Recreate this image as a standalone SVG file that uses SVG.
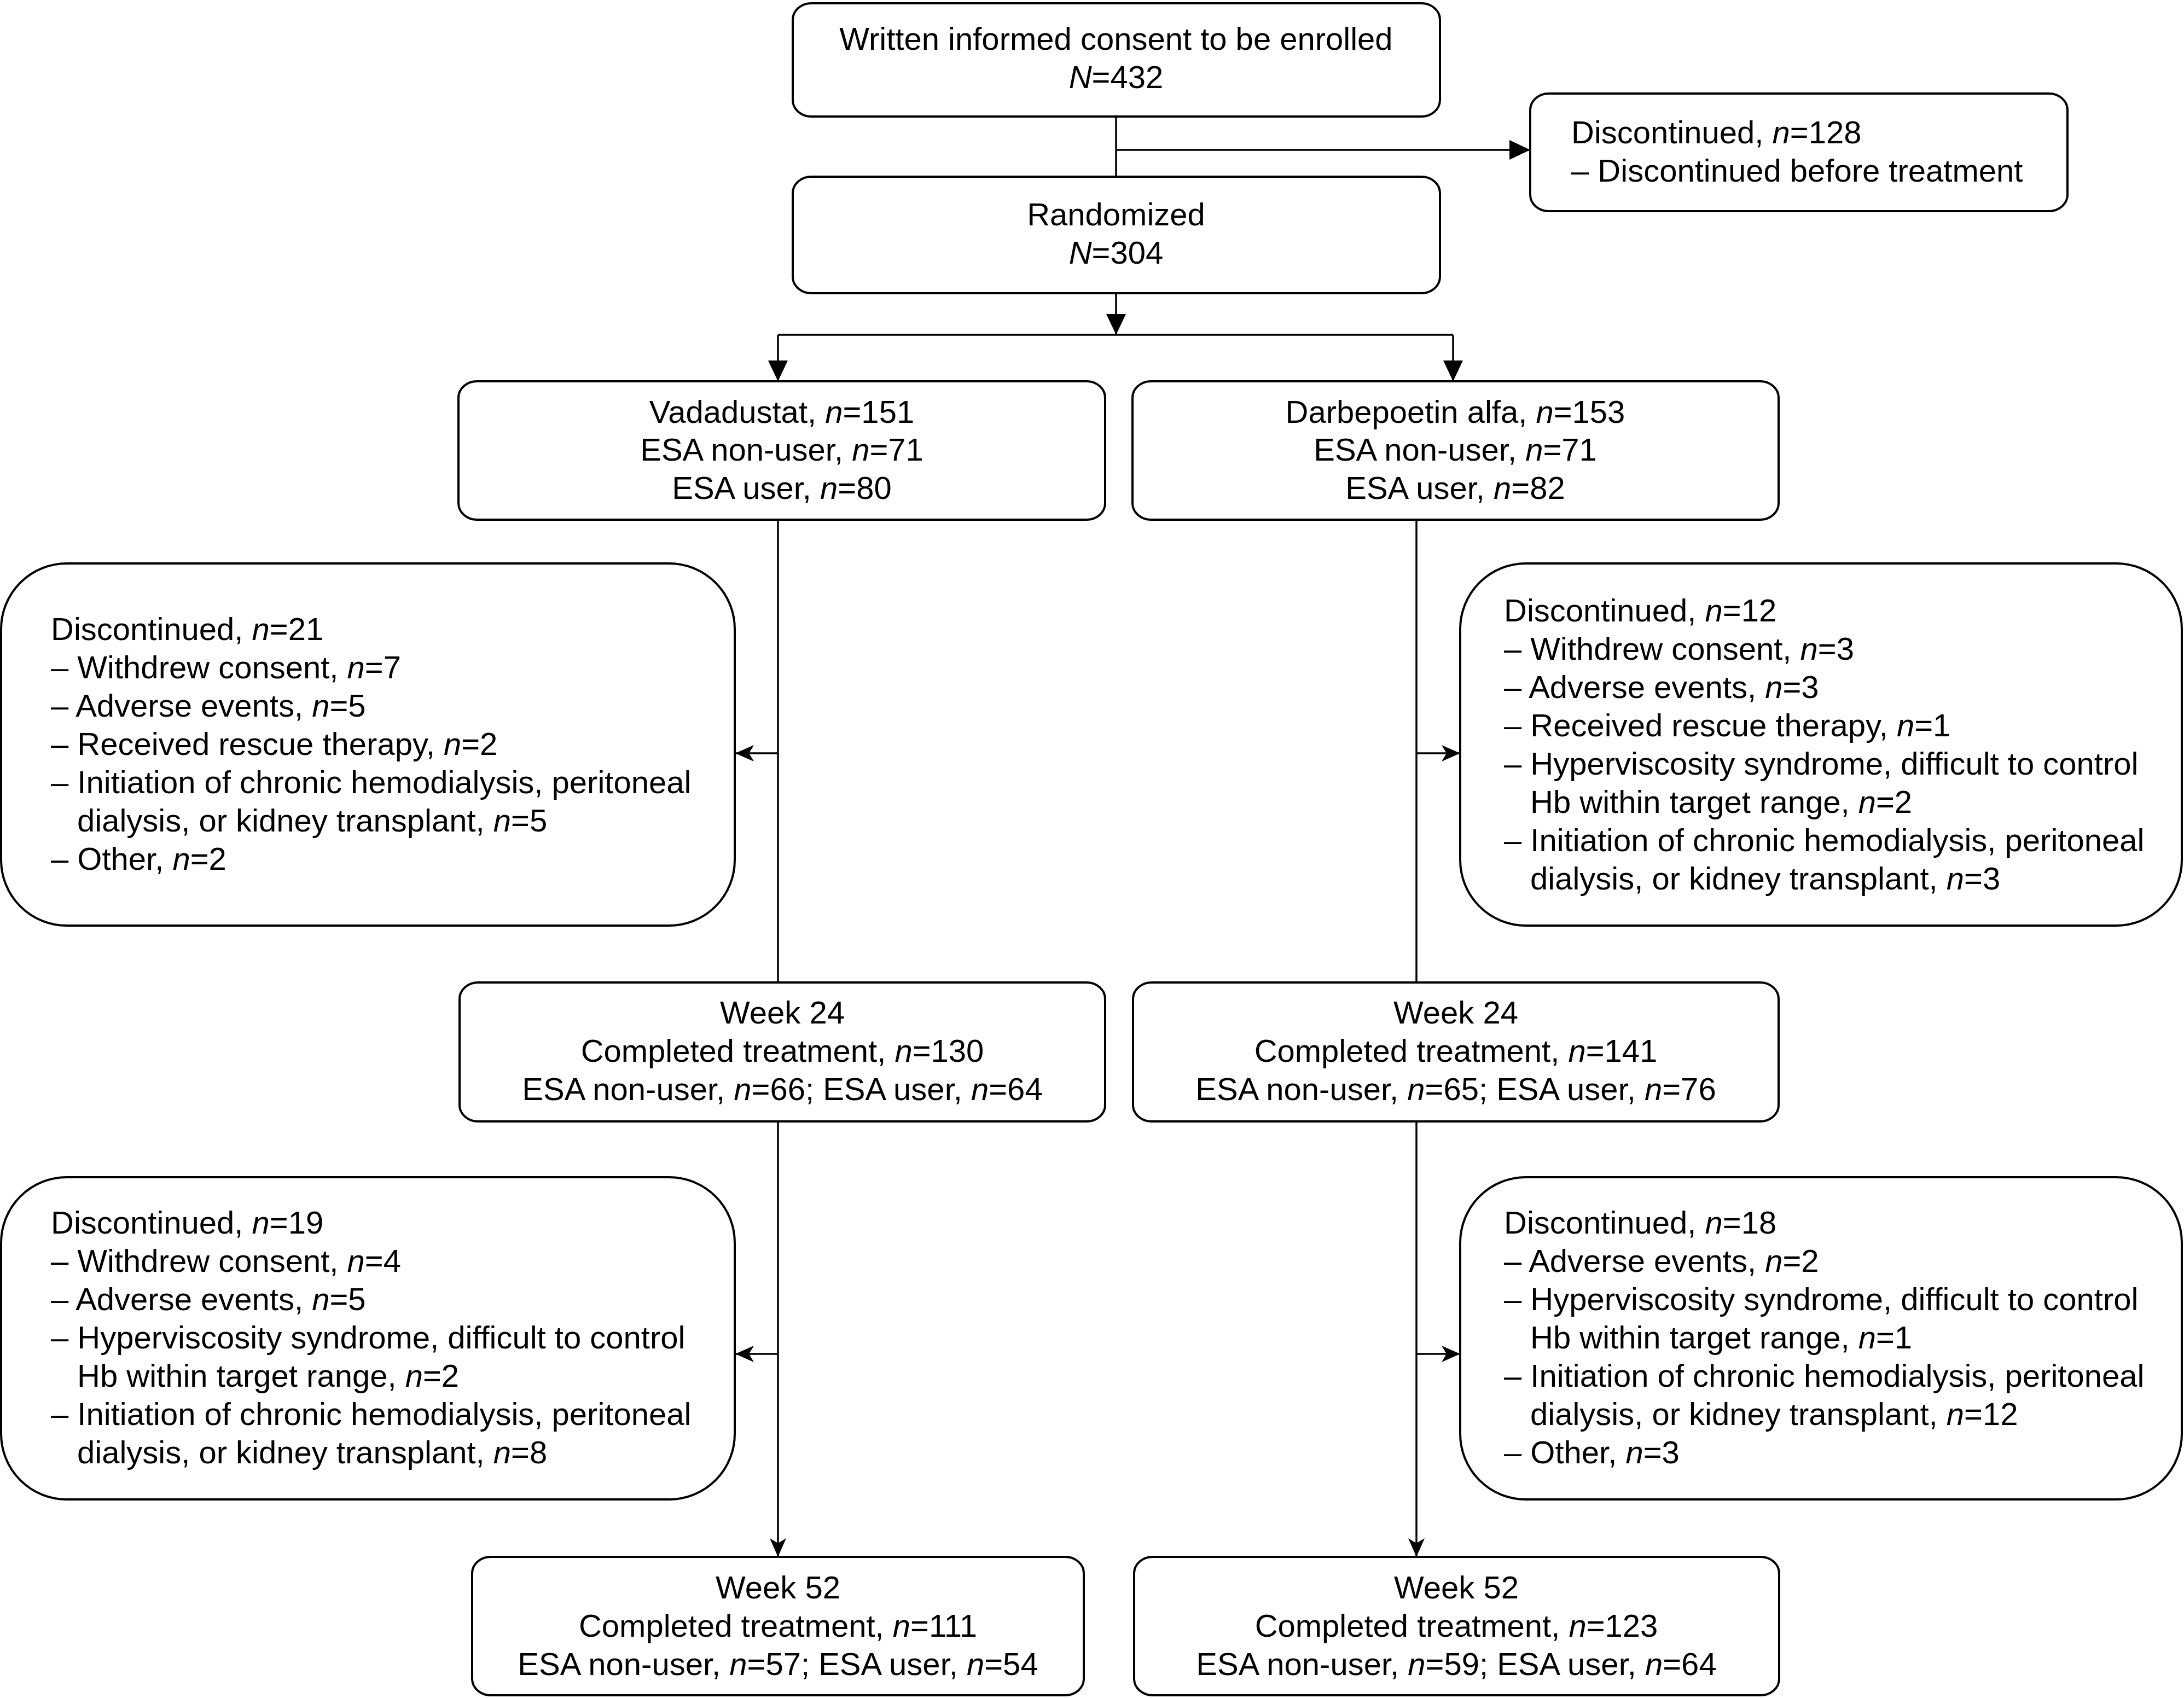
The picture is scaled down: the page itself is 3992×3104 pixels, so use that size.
<svg xmlns="http://www.w3.org/2000/svg" width="3992" height="3104" viewBox="0 0 3992 3104">
<style>
.box{fill:#fff;stroke:#000;stroke-width:4}
.t{font-family:"Liberation Sans",Arial,Helvetica,sans-serif;font-size:58px;fill:#000}
.c{text-anchor:middle}
.i{font-style:italic}
.ln{fill:none;stroke:#000;stroke-width:3.5}
</style>
<defs>
<marker id="tri" markerUnits="userSpaceOnUse" markerWidth="40" markerHeight="36" refX="38" refY="18" orient="auto">
<path d="M0,0 L38,18 L0,36 z" fill="#000"/>
</marker>
<marker id="barb" markerUnits="userSpaceOnUse" markerWidth="36" markerHeight="30" refX="34" refY="15" orient="auto">
<path d="M0,0 L34,15 L0,30 L9,15 z" fill="#000"/>
</marker>
</defs>
<rect width="3992" height="3104" fill="#fff"/>
<g id="connectors">
<line class="ln" x1="2040" y1="213" x2="2040" y2="323"/>
<line class="ln" x1="2040" y1="274" x2="2797" y2="274" marker-end="url(#tri)"/>
<line class="ln" x1="2040" y1="536" x2="2040" y2="612" marker-end="url(#tri)"/>
<line class="ln" x1="1422" y1="612" x2="2656" y2="612"/>
<line class="ln" x1="1422" y1="612" x2="1422" y2="697" marker-end="url(#tri)"/>
<line class="ln" x1="2656" y1="612" x2="2656" y2="697" marker-end="url(#tri)"/>
<line class="ln" x1="1422" y1="950" x2="1422" y2="1796"/>
<line class="ln" x1="1422" y1="1377" x2="1344" y2="1377" marker-end="url(#barb)"/>
<line class="ln" x1="2589" y1="950" x2="2589" y2="1796"/>
<line class="ln" x1="2589" y1="1377" x2="2669" y2="1377" marker-end="url(#barb)"/>
<line class="ln" x1="1422" y1="2050" x2="1422" y2="2846" marker-end="url(#barb)"/>
<line class="ln" x1="1422" y1="2475" x2="1344" y2="2475" marker-end="url(#barb)"/>
<line class="ln" x1="2589" y1="2050" x2="2589" y2="2846" marker-end="url(#barb)"/>
<line class="ln" x1="2589" y1="2475" x2="2669" y2="2475" marker-end="url(#barb)"/>
</g>
<g id="enrolled">
<rect class="box" x="1449" y="6" width="1183" height="207" rx="34" ry="30"/>
<text class="t c" x="2040" y="91">Written informed consent to be enrolled</text>
<text class="t c" x="2040" y="161"><tspan class="i">N</tspan>=432</text>
</g>
<g id="disc-pre">
<rect class="box" x="2797" y="171" width="982" height="215" rx="34" ry="30"/>
<text class="t" x="2872" y="262">Discontinued, <tspan class="i">n</tspan>=128</text>
<text class="t" x="2872" y="332">– Discontinued before treatment</text>
</g>
<g id="randomized">
<rect class="box" x="1449" y="323" width="1183" height="213" rx="34" ry="30"/>
<text class="t c" x="2040" y="412">Randomized</text>
<text class="t c" x="2040" y="482"><tspan class="i">N</tspan>=304</text>
</g>
<g id="vadadustat">
<rect class="box" x="838" y="697" width="1182" height="253" rx="34" ry="30"/>
<text class="t c" x="1429" y="773">Vadadustat, <tspan class="i">n</tspan>=151</text>
<text class="t c" x="1429" y="842">ESA non-user, <tspan class="i">n</tspan>=71</text>
<text class="t c" x="1429" y="912">ESA user, <tspan class="i">n</tspan>=80</text>
</g>
<g id="darbepoetin">
<rect class="box" x="2070" y="697" width="1181" height="253" rx="34" ry="30"/>
<text class="t c" x="2660" y="773">Darbepoetin alfa, <tspan class="i">n</tspan>=153</text>
<text class="t c" x="2660" y="842">ESA non-user, <tspan class="i">n</tspan>=71</text>
<text class="t c" x="2660" y="912">ESA user, <tspan class="i">n</tspan>=82</text>
</g>
<g id="disc-v1">
<rect class="box" x="2" y="1030" width="1341" height="662" rx="120" ry="120"/>
<text class="t" x="93" y="1170">Discontinued, <tspan class="i">n</tspan>=21</text>
<text class="t" x="93" y="1240">– Withdrew consent, <tspan class="i">n</tspan>=7</text>
<text class="t" x="93" y="1310">– Adverse events, <tspan class="i">n</tspan>=5</text>
<text class="t" x="93" y="1380">– Received rescue therapy, <tspan class="i">n</tspan>=2</text>
<text class="t" x="93" y="1450">– Initiation of chronic hemodialysis, peritoneal</text>
<text class="t" x="141" y="1520">dialysis, or kidney transplant, <tspan class="i">n</tspan>=5</text>
<text class="t" x="93" y="1590">– Other, <tspan class="i">n</tspan>=2</text>
</g>
<g id="disc-d1">
<rect class="box" x="2669" y="1030" width="1319" height="662" rx="120" ry="120"/>
<text class="t" x="2749" y="1136">Discontinued, <tspan class="i">n</tspan>=12</text>
<text class="t" x="2749" y="1206">– Withdrew consent, <tspan class="i">n</tspan>=3</text>
<text class="t" x="2749" y="1276">– Adverse events, <tspan class="i">n</tspan>=3</text>
<text class="t" x="2749" y="1346">– Received rescue therapy, <tspan class="i">n</tspan>=1</text>
<text class="t" x="2749" y="1416">– Hyperviscosity syndrome, difficult to control</text>
<text class="t" x="2797" y="1486">Hb within target range, <tspan class="i">n</tspan>=2</text>
<text class="t" x="2749" y="1556">– Initiation of chronic hemodialysis, peritoneal</text>
<text class="t" x="2797" y="1626">dialysis, or kidney transplant, <tspan class="i">n</tspan>=3</text>
</g>
<g id="week24-v">
<rect class="box" x="840" y="1796" width="1180" height="254" rx="34" ry="30"/>
<text class="t c" x="1430" y="1871">Week 24</text>
<text class="t c" x="1430" y="1941">Completed treatment, <tspan class="i">n</tspan>=130</text>
<text class="t c" x="1430" y="2011">ESA non-user, <tspan class="i">n</tspan>=66; ESA user, <tspan class="i">n</tspan>=64</text>
</g>
<g id="week24-d">
<rect class="box" x="2071" y="1796" width="1180" height="254" rx="34" ry="30"/>
<text class="t c" x="2661" y="1871">Week 24</text>
<text class="t c" x="2661" y="1941">Completed treatment, <tspan class="i">n</tspan>=141</text>
<text class="t c" x="2661" y="2011">ESA non-user, <tspan class="i">n</tspan>=65; ESA user, <tspan class="i">n</tspan>=76</text>
</g>
<g id="disc-v2">
<rect class="box" x="2" y="2152" width="1341" height="589" rx="120" ry="120"/>
<text class="t" x="93" y="2255">Discontinued, <tspan class="i">n</tspan>=19</text>
<text class="t" x="93" y="2325">– Withdrew consent, <tspan class="i">n</tspan>=4</text>
<text class="t" x="93" y="2395">– Adverse events, <tspan class="i">n</tspan>=5</text>
<text class="t" x="93" y="2465">– Hyperviscosity syndrome, difficult to control</text>
<text class="t" x="141" y="2535">Hb within target range, <tspan class="i">n</tspan>=2</text>
<text class="t" x="93" y="2605">– Initiation of chronic hemodialysis, peritoneal</text>
<text class="t" x="141" y="2675">dialysis, or kidney transplant, <tspan class="i">n</tspan>=8</text>
</g>
<g id="disc-d2">
<rect class="box" x="2669" y="2152" width="1319" height="589" rx="120" ry="120"/>
<text class="t" x="2749" y="2255">Discontinued, <tspan class="i">n</tspan>=18</text>
<text class="t" x="2749" y="2325">– Adverse events, <tspan class="i">n</tspan>=2</text>
<text class="t" x="2749" y="2395">– Hyperviscosity syndrome, difficult to control</text>
<text class="t" x="2797" y="2465">Hb within target range, <tspan class="i">n</tspan>=1</text>
<text class="t" x="2749" y="2535">– Initiation of chronic hemodialysis, peritoneal</text>
<text class="t" x="2797" y="2605">dialysis, or kidney transplant, <tspan class="i">n</tspan>=12</text>
<text class="t" x="2749" y="2675">– Other, <tspan class="i">n</tspan>=3</text>
</g>
<g id="week52-v">
<rect class="box" x="863" y="2846" width="1118" height="253" rx="34" ry="30"/>
<text class="t c" x="1422" y="2922">Week 52</text>
<text class="t c" x="1422" y="2992">Completed treatment, <tspan class="i">n</tspan>=111</text>
<text class="t c" x="1422" y="3062">ESA non-user, <tspan class="i">n</tspan>=57; ESA user, <tspan class="i">n</tspan>=54</text>
</g>
<g id="week52-d">
<rect class="box" x="2073" y="2846" width="1179" height="253" rx="34" ry="30"/>
<text class="t c" x="2662" y="2922">Week 52</text>
<text class="t c" x="2662" y="2992">Completed treatment, <tspan class="i">n</tspan>=123</text>
<text class="t c" x="2662" y="3062">ESA non-user, <tspan class="i">n</tspan>=59; ESA user, <tspan class="i">n</tspan>=64</text>
</g>
</svg>
